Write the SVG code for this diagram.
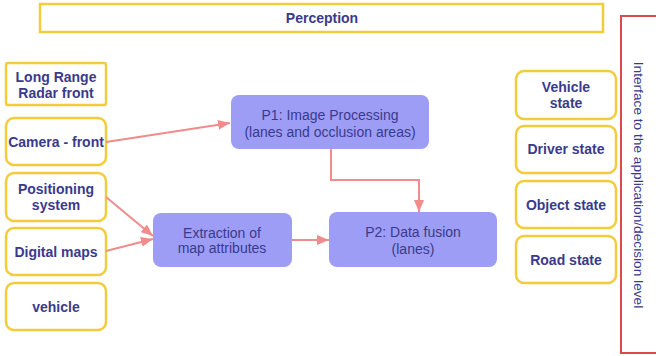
<svg xmlns="http://www.w3.org/2000/svg" width="656" height="356" viewBox="0 0 656 356">
<defs>
<style>
.y{fill:#fff;stroke:#f2cc3a;stroke-width:2.5}
.p{fill:#9d9df5;stroke:none}
.t{font-family:"Liberation Sans",Arial,sans-serif;font-size:14px;fill:#3a3a8c;text-anchor:middle}
.b{font-weight:bold}
.c{fill:none;stroke:#f28b8b;stroke-width:2}
</style>
<marker id="ah" viewBox="0 0 12 10" refX="12" refY="5" markerWidth="12" markerHeight="10" markerUnits="userSpaceOnUse" orient="auto">
<path d="M0,0 L12,5 L0,10 Z" fill="#f28b8b"/>
</marker>
</defs>
<rect width="656" height="356" fill="#fff"/>
<g id="perception"><rect class="y" x="40" y="4" width="563" height="28"/><text class="t b" x="322" y="23">Perception</text></g>
<g id="interface"><rect x="621" y="16" width="40" height="337" fill="#fff" stroke="#d94a4a" stroke-width="2"/><text class="t" font-size="13.7" transform="translate(634,185) rotate(90)" style="font-size:13.7px">Interface to the application/decision level</text></g>
<g id="radar"><rect class="y" x="6" y="63" width="100" height="42" rx="2"/><text class="t b" x="56" y="82">Long Range</text><text class="t b" x="56" y="98">Radar front</text></g>
<g id="camera"><rect class="y" x="6" y="118" width="100" height="47" rx="8"/><text class="t b" x="56" y="147">Camera - front</text></g>
<g id="positioning"><rect class="y" x="6" y="173" width="100" height="48" rx="8"/><text class="t b" x="56" y="194">Positioning</text><text class="t b" x="56" y="210">system</text></g>
<g id="maps"><rect class="y" x="6" y="228" width="100" height="47" rx="8"/><text class="t b" x="56" y="257">Digital maps</text></g>
<g id="vehicle"><rect class="y" x="6" y="283" width="100" height="47" rx="8"/><text class="t b" x="56" y="312">vehicle</text></g>
<g id="p1"><rect class="p" x="231" y="95" width="198" height="54" rx="8"/><text class="t" x="330" y="120">P1: Image Processing</text><text class="t" x="330" y="137">(lanes and occlusion areas)</text></g>
<g id="extraction"><rect class="p" x="153" y="213" width="139" height="54" rx="8"/><text class="t" x="222" y="238">Extraction of</text><text class="t" x="222" y="253">map attributes</text></g>
<g id="p2"><rect class="p" x="329" y="212" width="168" height="55" rx="8"/><text class="t" x="413" y="237">P2: Data fusion</text><text class="t" x="413" y="254">(lanes)</text></g>
<g id="vstate"><rect class="y" x="516" y="71" width="100" height="48" rx="8"/><text class="t b" x="566" y="92">Vehicle</text><text class="t b" x="566" y="108">state</text></g>
<g id="dstate"><rect class="y" x="516" y="126" width="100" height="47" rx="8"/><text class="t b" x="566" y="154">Driver state</text></g>
<g id="ostate"><rect class="y" x="516" y="181" width="100" height="47" rx="8"/><text class="t b" x="566" y="210">Object state</text></g>
<g id="rstate"><rect class="y" x="516" y="236" width="100" height="47" rx="8"/><text class="t b" x="566" y="265">Road state</text></g>
<g id="connectors">
<line class="c" x1="106" y1="142" x2="230" y2="123" marker-end="url(#ah)"/>
<polyline class="c" points="331,149 331,180 419,180 419,212" marker-end="url(#ah)"/>
<line class="c" x1="106" y1="197" x2="153" y2="236" marker-end="url(#ah)"/>
<line class="c" x1="106" y1="251" x2="153" y2="239" marker-end="url(#ah)"/>
<line class="c" x1="292" y1="240" x2="329" y2="240" marker-end="url(#ah)"/>
</g>
</svg>
